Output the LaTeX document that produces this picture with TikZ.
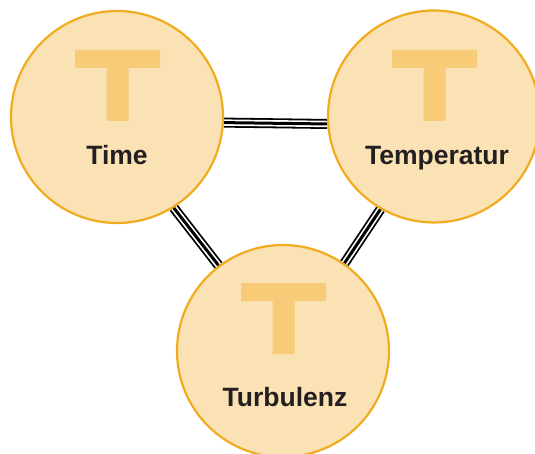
\documentclass[tikz,border=0pt]{standalone}
\usepackage{fontspec}
\setmainfont{Liberation Sans}
\usetikzlibrary{backgrounds}
\definecolor{bubblefill}{HTML}{FBE2B5}
\definecolor{bubbleline}{HTML}{F0AC1E}
\definecolor{iconfill}{HTML}{F8CB78}
\definecolor{labeltext}{HTML}{231F20}
\tikzset{
  bubble/.style={circle, draw=bubbleline, fill=bubblefill, line width=2.2pt,
    minimum size=212pt, inner sep=0pt},
  caption/.style={anchor=base, inner sep=0pt, text=labeltext,
    font=\bfseries\fontsize{26.5}{31}\selectfont},
  triple/.style={
    preaction={draw=black, line width=10pt},
    preaction={draw=white, line width=6.4pt},
    draw=black, line width=3pt},
}
% T icon: bar and stem, centred horizontally on #1, top of bar at #2
\newcommand{\ticon}[2]{%
  \fill[iconfill] (#1-42.5,#2) -- (#1+42.5,#2) -- (#1+42.5,#2+18) -- (#1+11,#2+18)
    -- (#1+11,#2+71) -- (#1-11,#2+71) -- (#1-11,#2+18) -- (#1-42.5,#2+18) -- cycle;}
\begin{document}
\begin{tikzpicture}[x=1pt, y=-1pt]
  \useasboundingbox (0,0) rectangle (535,454);
  \clip (0,0) rectangle (535,454);

  \node[bubble] (time) at (117,117) {};
  \node[bubble] (temp) at (434,116.5) {};
  \node[bubble] (turb) at (283,351) {};

  \ticon{117.5}{50}
  \ticon{434.5}{50}
  \ticon{283.5}{283}

  \node[caption] (timelabel) at (117,165) {Time};
  \node[caption] (templabel) at (437,165) {Temperatur};
  \node[caption] (turblabel) at (285,406) {Turbulenz};

  \begin{scope}[on background layer]
    \path[triple] (time.-3.8) -- (temp.184);
    \path[triple] (time.-58.4) -- (turb.127.5);
    \path[triple] (temp.240.3) -- (turb.55.1);
  \end{scope}
\end{tikzpicture}
\end{document}
